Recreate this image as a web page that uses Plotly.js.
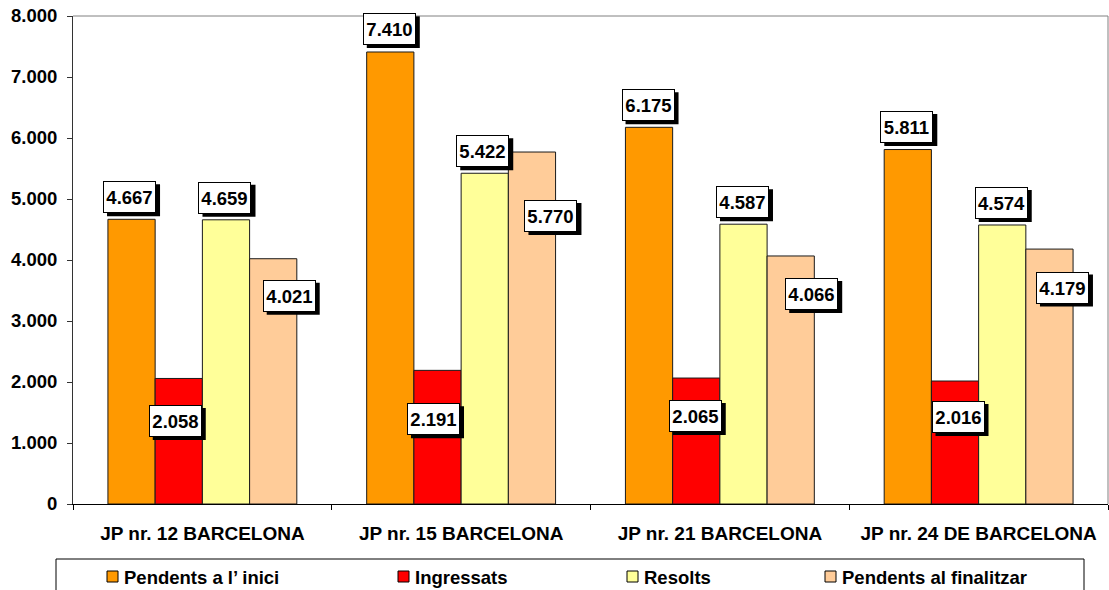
<!DOCTYPE html>
<html>
<head>
<meta charset="utf-8">
<script src="https://cdn.plot.ly/plotly-3.0.1.min.js"></script>
<style>html,body{margin:0;padding:0;background:#fff;}#chart{width:1109px;height:590px;}</style>
</head>
<body>
<div id="chart"></div>
<script>
// ---- data ----
const categories = ['JP nr. 12 BARCELONA', 'JP nr. 15 BARCELONA', 'JP nr. 21 BARCELONA', 'JP nr. 24 DE BARCELONA'];
const seriesNames = ['Pendents a l\u2019 inici', 'Ingressats', 'Resolts', 'Pendents al finalitzar'];
const pendentsInici = [4667, 7410, 6175, 5811];
const ingressats = [2058, 2191, 2065, 2016];
const resolts = [4659, 5422, 4587, 4574];
const pendentsFinal = [4021, 5770, 4066, 4179];
const yTickVals = [0, 1000, 2000, 3000, 4000, 5000, 6000, 7000, 8000];

// ---- styling / layout helpers ----
const seriesValues = [pendentsInici, ingressats, resolts, pendentsFinal];
const colors = ['#FF9900', '#FF0000', '#FFFF99', '#FFCC99'];
const bargap = 0.27;
const barW = (1 - bargap) / 4;
// label offsets in px relative to the bar top centre [dx, dy]
const labelOffsets = [
  [[-2, 22], [-1, 23], [-1, 22], [-1, 22.5]],
  [[-3.5, -42.5], [-4, -49], [-1, -38], [3, -36]],
  [[-1, 22], [-2, 22], [-1, 22], [-1, 22]],
  [[16, -37], [19, -64], [21, -38], [13, -38.5]]
];
const FONT = 'Liberation Sans, Arial, sans-serif';
const FS = 18.5;

function fmt(v) {
  return String(v).replace(/\B(?=(\d{3})+(?!\d))/g, '.');
}

const traces = seriesValues.map((vals, i) => ({
  type: 'bar',
  name: seriesNames[i],
  x: categories,
  y: vals,
  marker: {color: colors[i], line: {color: '#1a1a1a', width: 1}},
  showlegend: false,
  hoverinfo: 'x+y'
}));

const annotations = [];
const shapes = [];
const boxW = 53, boxH = 32;
seriesValues.forEach((vals, i) => {
  vals.forEach((v, j) => {
    const xc = j + (i - 1.5) * barW;
    const [dx, dy] = labelOffsets[i][j];
    // shadow
    shapes.push({
      type: 'rect', layer: 'above',
      xref: 'x', xsizemode: 'pixel', xanchor: xc,
      x0: dx - boxW / 2 + 4, x1: dx + boxW / 2 + 4,
      yref: 'y', ysizemode: 'pixel', yanchor: v,
      y0: dy - boxH / 2 - 3, y1: dy + boxH / 2 - 3,
      fillcolor: '#000', line: {width: 0}
    });
    annotations.push({
      xref: 'x', yref: 'y', x: xc, y: v,
      xshift: dx, yshift: dy,
      xanchor: 'center', yanchor: 'middle',
      text: fmt(v), showarrow: false,
      font: {family: FONT, size: FS, color: '#000', weight: 'bold'},
      bgcolor: '#fff', bordercolor: '#000', borderwidth: 1,
      borderpad: 1, width: boxW - 4, height: boxH - 4
    });
  });
});

// plot frame: grey top and right border
shapes.push({type: 'line', xref: 'paper', yref: 'paper', x0: 0, x1: 1, y0: 1, y1: 1, line: {color: '#808080', width: 1}});
shapes.push({type: 'line', xref: 'paper', yref: 'paper', x0: 1, x1: 1, y0: 0, y1: 1, line: {color: '#808080', width: 1}});

// manual legend (pixel positions converted to paper coords)
const L = 73, T = 16, PW = 1035, PH = 488;
const px = x => (x - L) / PW;
const py = y => (T + PH - y) / PH;
shapes.push({type: 'rect', xref: 'paper', yref: 'paper', x0: px(56), x1: px(1084), y0: py(559), y1: py(604),
  line: {color: '#000', width: 1}, fillcolor: 'rgba(0,0,0,0)'});
const legendSwatchX = [107, 398, 627, 825];
seriesNames.forEach((name, i) => {
  const sx = legendSwatchX[i];
  shapes.push({type: 'rect', xref: 'paper', yref: 'paper', x0: px(sx), x1: px(sx + 11), y0: py(582), y1: py(571),
    fillcolor: colors[i], line: {color: '#000', width: 1}});
  annotations.push({xref: 'paper', yref: 'paper', x: px(sx + 15), y: py(577), xanchor: 'left', yanchor: 'middle',
    text: name, showarrow: false, font: {family: FONT, size: FS, color: '#000', weight: 'bold'}});
});

const layout = {
  width: 1109, height: 590,
  margin: {l: 73, r: 1, t: 16, b: 86, pad: 0},
  paper_bgcolor: '#fff', plot_bgcolor: '#fff',
  barmode: 'group', bargap: bargap, bargroupgap: 0,
  separators: ',.',
  font: {family: FONT, size: FS, color: '#000', weight: 'bold'},
  xaxis: {
    type: 'category',
    showline: true, linecolor: '#000', linewidth: 1,
    ticks: 'outside', tickson: 'boundaries', ticklen: 5, tickcolor: '#000',
    tickfont: {family: FONT, size: 19, color: '#000', weight: 'bold'},
    showgrid: false, zeroline: false, fixedrange: true,
    ticklabelstandoff: 12
  },
  yaxis: {
    range: [0, 8000], tickvals: yTickVals, tickformat: ',d',
    showline: true, linecolor: '#333', linewidth: 1,
    ticks: 'outside', ticklen: 5, tickcolor: '#333',
    tickfont: {family: FONT, size: FS, color: '#000', weight: 'bold'},
    showgrid: false, zeroline: false, fixedrange: true,
    ticklabelstandoff: 6
  },
  annotations: annotations,
  shapes: shapes,
  showlegend: false
};

Plotly.newPlot('chart', traces, layout, {displayModeBar: false, staticPlot: true});
</script>
</body>
</html>
